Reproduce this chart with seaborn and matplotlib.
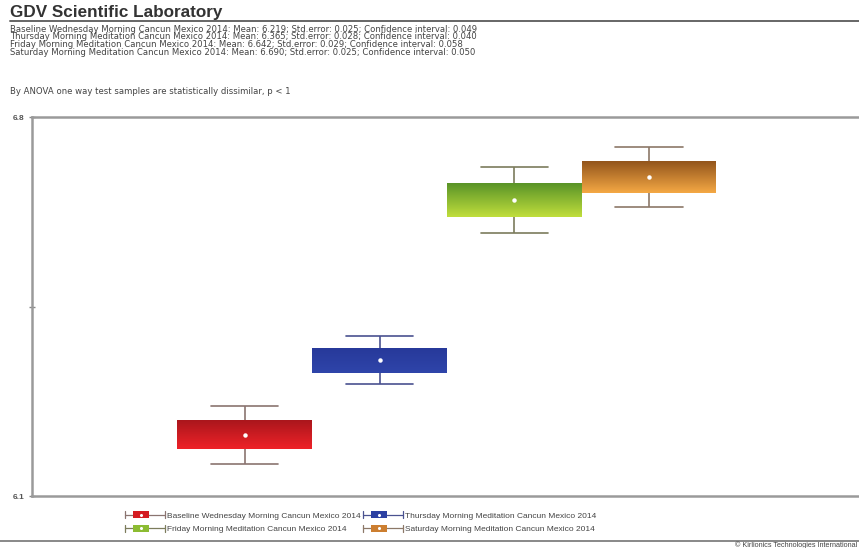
import numpy as np
import pandas as pd
import seaborn as sns
import matplotlib.pyplot as plt
from matplotlib.legend_handler import HandlerBase
from matplotlib.patches import Rectangle
from matplotlib.lines import Line2D
from matplotlib.colors import LinearSegmentedColormap

sns.set_theme(style="white")
plt.rcParams['font.family'] = ['Liberation Sans', 'DejaVu Sans']

groups = ["Baseline Wednesday Morning Cancun Mexico 2014",
          "Thursday Morning Meditation Cancun Mexico 2014",
          "Friday Morning Meditation Cancun Mexico 2014",
          "Saturday Morning Meditation Cancun Mexico 2014"]
means = [6.213, 6.351, 6.647, 6.689]
std_err = [0.027, 0.023, 0.031, 0.029]
conf_int = [0.054, 0.044, 0.061, 0.055]
header_lines = [
    "Baseline Wednesday Morning Cancun Mexico 2014: Mean: 6.219; Std.error: 0.025; Confidence interval: 0.049",
    "Thursday Morning Meditation Cancun Mexico 2014: Mean: 6.365; Std.error: 0.028; Confidence interval: 0.040",
    "Friday Morning Meditation Cancun Mexico 2014: Mean: 6.642; Std.error: 0.029; Confidence interval: 0.058",
    "Saturday Morning Meditation Cancun Mexico 2014: Mean: 6.690; Std.error: 0.025; Confidence interval: 0.050",
]
y_ticks = [6.1, 6.45, 6.8]
y_tick_labels = ["6.1", "", "6.8"]

mid_colors = ["#d41c22", "#2c40a2", "#8cbc32", "#cc7e30"]
top_colors = ["#a8161c", "#27399a", "#5a9428", "#93551c"]
bottom_colors = ["#ee2228", "#2f45aa", "#c0de3c", "#f4a844"]
whisker_colors = ["#8a7470", "#4a5290", "#7c7c5c", "#8c7868"]

# box = mean +/- std error, whiskers = mean +/- confidence interval
rows = []
for g, m, s, c in zip(groups, means, std_err, conf_int):
    for v in (m - c, m - s, m, m + s, m + c):
        rows.append({"group": g, "value": v})
df = pd.DataFrame(rows)

fig = plt.figure(figsize=(8.59, 5.48), dpi=100)
ax = fig.add_axes([32 / 859, 1 - 496 / 548, 1 - 32 / 859, (496 - 117) / 548])

sns.boxplot(data=df, x="group", y="value", hue="group", palette=mid_colors,
            width=1.0, gap=0, whis=1.5, showmeans=True, fliersize=0,
            linewidth=1.2, legend=False, ax=ax,
            medianprops={"visible": False},
            meanprops={"marker": "o", "markerfacecolor": "white",
                       "markeredgecolor": "white", "markersize": 2.2})

# gradient fill for each box, coloured whiskers
for i, cont in enumerate(ax.containers):
    box = cont.boxes[0]
    box.set_edgecolor("none")
    ext = box.get_path().get_extents()
    cmap = LinearSegmentedColormap.from_list(f"g{i}", [bottom_colors[i], top_colors[i]])
    grad = np.linspace(0, 1, 64).reshape(-1, 1)
    im = ax.imshow(grad, extent=[ext.x0, ext.x1, ext.y0, ext.y1], origin="lower",
                   aspect="auto", cmap=cmap, zorder=box.get_zorder() + 0.1)
    im.set_clip_path(box)
    for ln in list(cont.whiskers) + list(cont.caps):
        ln.set_color(whisker_colors[i])
    for ln in cont.means:
        ln.set_zorder(box.get_zorder() + 0.5)

ax.set_xlim(-1.58, 4.56)
ax.set_ylim(6.1, 6.8)
ax.set_aspect("auto")
ax.set_xlabel("")
ax.set_ylabel("")
ax.set_xticks([])
ax.set_yticks(y_ticks)
ax.set_yticklabels(y_tick_labels, fontsize=6, fontweight="bold", color="#555555")
ax.tick_params(axis="y", direction="inout", length=5, width=1, color="#888888", pad=3, left=True)
for side in ["left", "top", "bottom"]:
    ax.spines[side].set_color("#9a9a9a")
    ax.spines[side].set_linewidth(1.8)
ax.spines["right"].set_visible(False)


class BoxHandler(HandlerBase):
    def create_artists(self, legend, orig_handle, xdescent, ydescent,
                       width, height, fontsize, trans):
        yc = height / 2 - ydescent
        x0, x1 = -xdescent, width - xdescent
        lc = orig_handle.get_edgecolor()
        h = height * 0.5
        arts = [Line2D([x0, x1], [yc, yc], color=lc, lw=0.9),
                Line2D([x0, x0], [yc - h, yc + h], color=lc, lw=0.9),
                Line2D([x1, x1], [yc - h, yc + h], color=lc, lw=0.9),
                Rectangle((x0 + width * 0.2, yc - h), width * 0.4, 2 * h,
                          facecolor=orig_handle.get_facecolor(), edgecolor="none"),
                Line2D([x0 + width * 0.4], [yc], marker="o", markersize=1.2,
                       color="white", lw=0)]
        for a in arts:
            a.set_transform(trans)
        return arts


order = [0, 2, 1, 3]
handles = [Rectangle((0, 0), 1, 1, facecolor=mid_colors[i], edgecolor=whisker_colors[i])
           for i in order]
fig.legend(handles, [groups[i] for i in order], handler_map={Rectangle: BoxHandler()},
           loc="upper left", bbox_to_anchor=(125 / 859, 1 - 511 / 548),
           ncol=2, fontsize=6.0, frameon=False, handlelength=4.8, handleheight=1.0,
           handletextpad=0.25, columnspacing=0.3, labelspacing=0.6,
           borderpad=0, borderaxespad=0, labelcolor="#444444")

# header texts
fig.text(10 / 859, 1 - 12 / 548, "GDV Scientific Laboratory", fontsize=12.3,
         fontweight="bold", color="#333333", va="center", ha="left")
fig.add_artist(Line2D([10 / 859, 1], [1 - 21 / 548, 1 - 21 / 548], color="#666666", lw=1.4))
for k, line in enumerate(header_lines):
    fig.text(10 / 859, 1 - (31.5 + 7.8 * k) / 548, line, fontsize=6.1, color="#444444",
             va="baseline", ha="left", family="DejaVu Sans")
fig.text(10 / 859, 1 - 94 / 548,
         "By ANOVA one way test samples are statistically dissimilar, p < 1",
         fontsize=6.1, color="#444444", va="baseline", ha="left", family="DejaVu Sans")

fig.add_artist(Line2D([0, 1], [1 - 541 / 548, 1 - 541 / 548], color="#888888", lw=1.4))
fig.text(857 / 859, 1 - 545.5 / 548, "© Kirlionics Technologies International",
         fontsize=5.2, color="#444444", va="center", ha="right")

fig.savefig("out.png", dpi=100, facecolor="white")
